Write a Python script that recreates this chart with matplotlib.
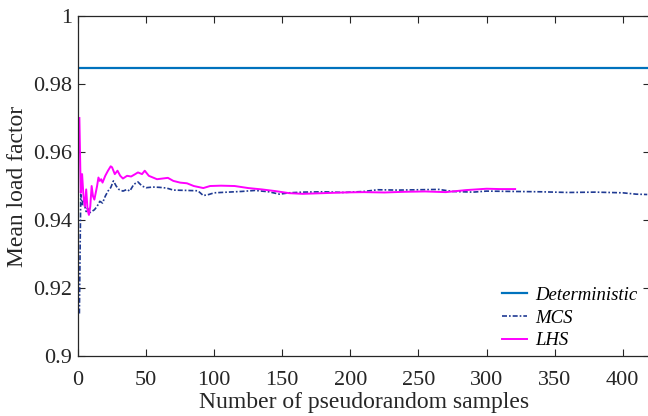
import matplotlib
matplotlib.use("Agg")
import matplotlib.pyplot as plt
from matplotlib.ticker import FixedLocator, FixedFormatter

plt.rcParams['font.family'] = ['Liberation Serif', 'DejaVu Serif']

# values
deterministic = 0.9847

mcs_n = [1, 2, 3, 4, 5, 6, 7, 8, 10, 12, 14, 16, 18, 20, 22, 24, 26, 28, 30,
         33, 36, 38, 41, 44, 47, 50, 55, 60, 65, 70, 80, 88, 92, 96, 100,
         110, 120, 130, 140, 148, 155, 165, 180, 195, 210, 220, 235, 250,
         265, 275, 290, 300, 320, 340, 360, 380, 400, 410, 418]
mcs_val = [0.9125, 0.9475, 0.9445, 0.9460, 0.9440, 0.9425, 0.9435, 0.9420,
           0.9425, 0.9430, 0.9440, 0.9455, 0.9450, 0.9470, 0.9485, 0.9495,
           0.9515, 0.9500, 0.9490, 0.9485, 0.9490, 0.9485, 0.9505, 0.9512,
           0.9500, 0.9495, 0.9497, 0.9496, 0.9494, 0.9488, 0.9487, 0.9486,
           0.9472, 0.9475, 0.9480, 0.9482, 0.9484, 0.9487, 0.9483, 0.9476,
           0.9480, 0.9482, 0.9483, 0.9481, 0.9484, 0.9489, 0.9488, 0.9489,
           0.9490, 0.9484, 0.9482, 0.9485, 0.9484, 0.9483, 0.9481, 0.9482,
           0.9480, 0.9476, 0.9475]

lhs_n = [1, 2, 3, 4, 5, 6, 7, 8, 9, 10, 11, 12, 13, 14, 15, 16, 17, 18, 20,
         22, 24, 25, 27, 29, 31, 33, 36, 39, 42, 44, 47, 49, 52, 55, 58, 62,
         66, 70, 75, 80, 85, 92, 97, 105, 115, 125, 135, 145, 155, 165, 180,
         195, 210, 225, 240, 255, 270, 285, 300, 310, 321]
lhs_val = [0.9700, 0.9480, 0.9535, 0.9470, 0.9440, 0.9490, 0.9430, 0.9415,
           0.9440, 0.9500, 0.9470, 0.9460, 0.9480, 0.9500, 0.9525, 0.9515,
           0.9520, 0.9510, 0.9530, 0.9545, 0.9558, 0.9555, 0.9535, 0.9545,
           0.9530, 0.9522, 0.9530, 0.9528, 0.9535, 0.9540, 0.9535, 0.9545,
           0.9530, 0.9525, 0.9520, 0.9522, 0.9524, 0.9515, 0.9510, 0.9508,
           0.9500, 0.9494, 0.9500, 0.9501, 0.9500, 0.9494, 0.9490, 0.9485,
           0.9479, 0.9477, 0.9479, 0.9481, 0.9482, 0.9481, 0.9483, 0.9484,
           0.9482, 0.9488, 0.9492, 0.9491, 0.9491]

x_ticks = [0, 50, 100, 150, 200, 250, 300, 350, 400]
y_ticks = [0.9, 0.92, 0.94, 0.96, 0.98, 1.0]
y_tick_labels = ['0.9', '0.92', '0.94', '0.96', '0.98', '1']

fig = plt.figure(figsize=(6.48, 4.16), dpi=100)
ax = fig.add_axes([0.1204, 0.1442, 0.8826, 0.8173])

ax.axhline(deterministic, color='#0072BD', lw=1.6, label='Deterministic')
ax.plot(mcs_n, mcs_val, color='#1F3A93', lw=1.2, dashes=(3, 1.2, 1, 1.2),
        label='MCS')
ax.plot(lhs_n, lhs_val, color='#FF00FF', lw=1.4, label='LHS')

ax.set_xlim(0, 420)
ax.set_ylim(0.9, 1.0)
ax.xaxis.set_major_locator(FixedLocator(x_ticks))
ax.yaxis.set_major_locator(FixedLocator(y_ticks))
ax.yaxis.set_major_formatter(FixedFormatter(y_tick_labels))
ax.tick_params(direction='in', top=True, right=True, length=5, width=0.8,
               labelsize=16, colors='#262626')
ax.tick_params(axis='x', pad=11)
ax.tick_params(axis='y', pad=4)
for s in ax.spines.values():
    s.set_linewidth(0.9)
    s.set_color('#262626')

ax.set_xlabel('Number of pseudorandom samples', fontsize=17, color='#262626',
              labelpad=1.5)
ax.set_ylabel('Mean load factor', fontsize=17, color='#262626', labelpad=4)

leg = ax.legend(loc='lower right', frameon=False,
                prop={'style': 'italic', 'size': 13.5},
                handlelength=1.35, handletextpad=0.45, labelspacing=0.3,
                bbox_to_anchor=(1.008, -0.03))

fig.savefig('out.png', dpi=100)
